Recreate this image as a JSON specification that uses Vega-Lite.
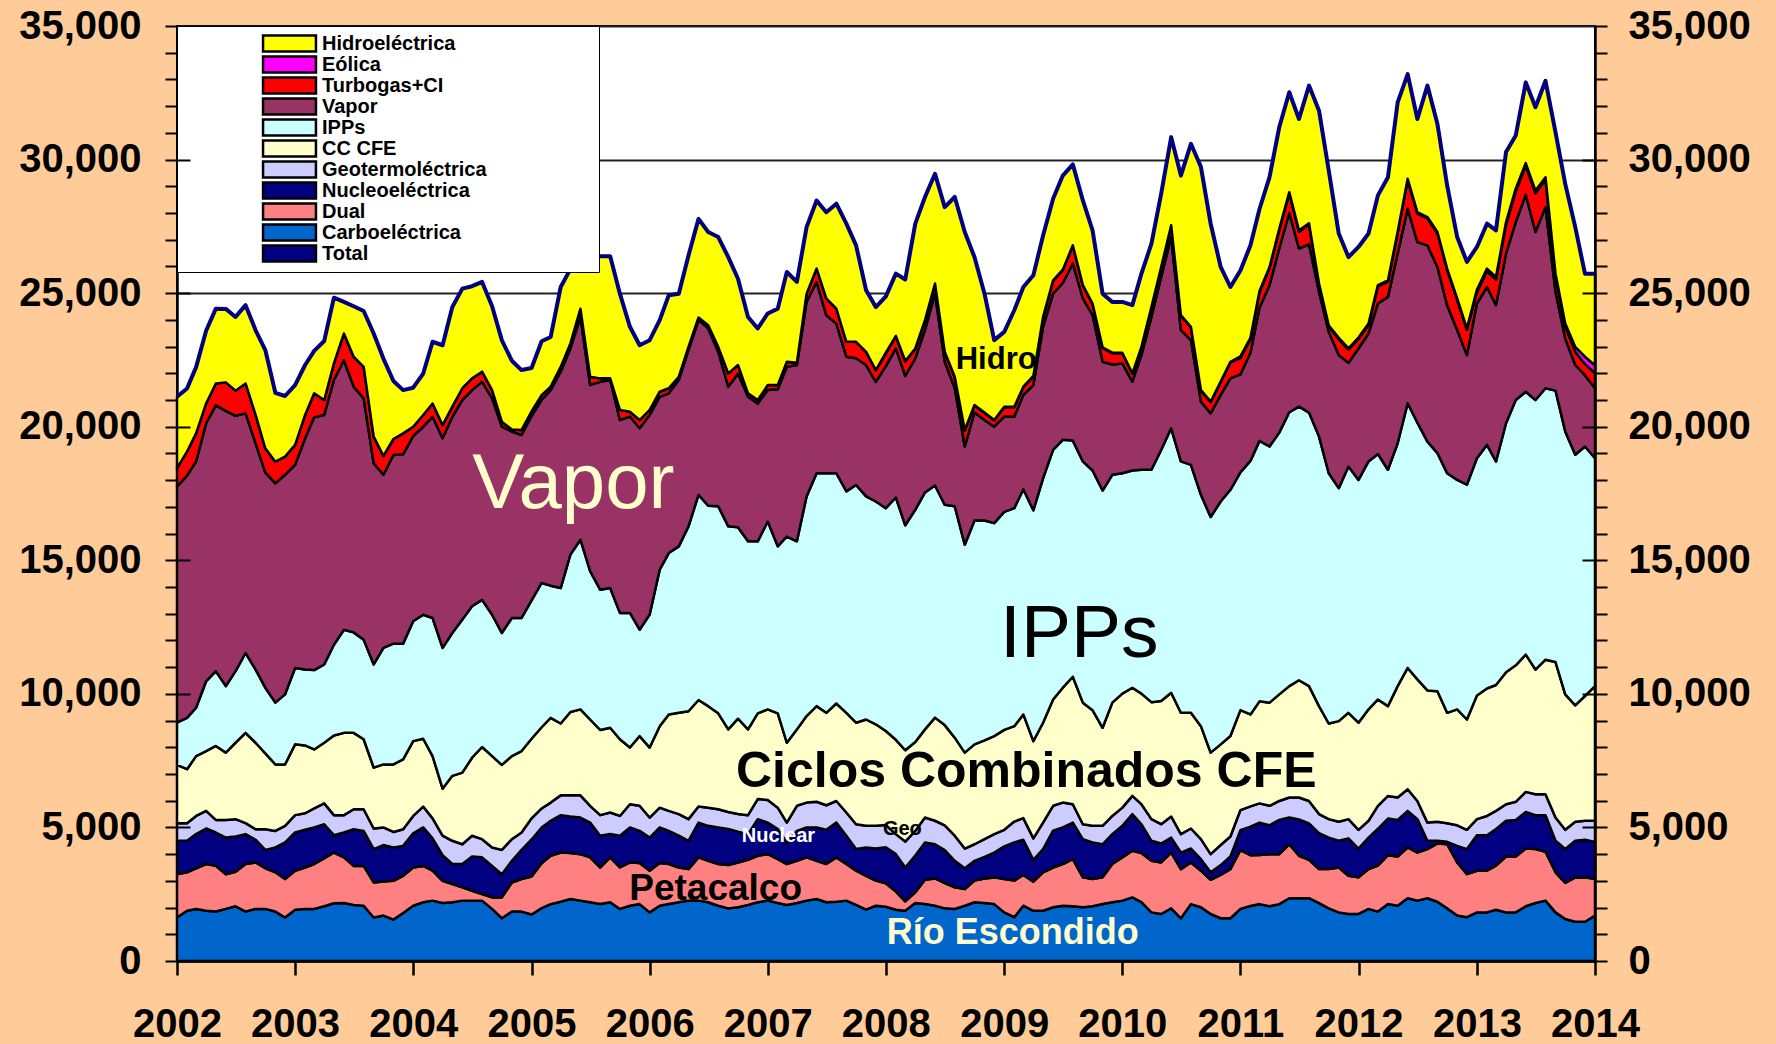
{
"$schema": "https://vega.github.io/schema/vega-lite/v6.json",
"width": 1418, "height": 935,
"autosize": {"type": "none"},
"padding": {"left": 177, "top": 26, "right": 181, "bottom": 83},
"background": "#FFCC99",
"config": {"view": {"fill": "white", "stroke": "black", "strokeWidth": 2}, "font": "Liberation Sans"},
"datasets": {
"ser": [
{"k":"c","name":"Carboeléctrica","o":1},{"k":"du","name":"Dual","o":2},{"k":"n","name":"Nucleoeléctrica","o":3},{"k":"g","name":"Geotermoléctrica","o":4},{"k":"cc","name":"CC CFE","o":5},{"k":"ipp","name":"IPPs","o":6},{"k":"v","name":"Vapor","o":7},{"k":"tg","name":"Turbogas+CI","o":8},{"k":"e","name":"Eólica","o":9},{"k":"h","name":"Hidroeléctrica","o":10}],
"ann": [
{"d":"2005-05-10","v":17800,"label":"Vapor"},
{"d":"2009-08-21","v":12230,"label":"IPPs"},
{"d":"2009-03-10","v":7080,"label":"Ciclos Combinados CFE"},
{"d":"2008-12-07","v":22480,"label":"Hidro"},
{"d":"2008-02-21","v":4940,"label":"Geo"},
{"d":"2007-02-03","v":4680,"label":"Nuclear"},
{"d":"2006-07-24","v":2710,"label":"Petacalco"},
{"d":"2009-01-27","v":1040,"label":"Río Escondido"}],
"m": [
{"d":"2002-01","c":1630,"du":1620,"n":1250,"g":660,"cc":2180,"ipp":1580,"v":8840,"tg":690,"e":0,"h":2670,"t":21120},
{"d":"2002-02","c":1880,"du":1440,"n":1180,"g":660,"cc":2020,"ipp":1920,"v":9070,"tg":900,"e":0,"h":2360,"t":21430},
{"d":"2002-03","c":1950,"du":1520,"n":1280,"g":680,"cc":2240,"ipp":1810,"v":9220,"tg":1050,"e":0,"h":2480,"t":22230},
{"d":"2002-04","c":1880,"du":1750,"n":1330,"g":660,"cc":2240,"ipp":2610,"v":9660,"tg":740,"e":0,"h":2720,"t":23590},
{"d":"2002-05","c":1850,"du":1710,"n":1250,"g":470,"cc":2770,"ipp":2800,"v":9950,"tg":820,"e":0,"h":2800,"t":24420},
{"d":"2002-06","c":1950,"du":1300,"n":1370,"g":660,"cc":2520,"ipp":2490,"v":10300,"tg":1070,"e":0,"h":2750,"t":24410},
{"d":"2002-07","c":2050,"du":1290,"n":1320,"g":650,"cc":2860,"ipp":2680,"v":9560,"tg":940,"e":0,"h":2760,"t":24110},
{"d":"2002-08","c":1850,"du":1780,"n":1120,"g":410,"cc":3380,"ipp":2990,"v":8970,"tg":1120,"e":0,"h":2930,"t":24550},
{"d":"2002-09","c":1950,"du":1740,"n":850,"g":390,"cc":3240,"ipp":2740,"v":8470,"tg":1060,"e":0,"h":3170,"t":23610},
{"d":"2002-10","c":1950,"du":1520,"n":690,"g":770,"cc":2840,"ipp":2460,"v":8050,"tg":910,"e":0,"h":3680,"t":22870},
{"d":"2002-11","c":1850,"du":1470,"n":930,"g":620,"cc":2490,"ipp":2310,"v":8210,"tg":810,"e":0,"h":2580,"t":21270},
{"d":"2002-12","c":1630,"du":1440,"n":1370,"g":620,"cc":2300,"ipp":2620,"v":8220,"tg":680,"e":0,"h":2270,"t":21150},
{"d":"2003-01","c":1920,"du":1460,"n":1430,"g":650,"cc":2650,"ipp":2860,"v":7600,"tg":750,"e":0,"h":2240,"t":21560},
{"d":"2003-02","c":1950,"du":1550,"n":1410,"g":620,"cc":2540,"ipp":2840,"v":8660,"tg":870,"e":0,"h":1870,"t":22310},
{"d":"2003-03","c":1950,"du":1680,"n":1370,"g":710,"cc":2210,"ipp":2970,"v":9460,"tg":900,"e":0,"h":1590,"t":22840},
{"d":"2003-04","c":2050,"du":1790,"n":1280,"g":780,"cc":2270,"ipp":2930,"v":9340,"tg":560,"e":0,"h":2210,"t":23210},
{"d":"2003-05","c":2160,"du":1900,"n":650,"g":750,"cc":2980,"ipp":3400,"v":9910,"tg":620,"e":0,"h":2460,"t":24830},
{"d":"2003-06","c":2170,"du":1710,"n":930,"g":650,"cc":3080,"ipp":3860,"v":10090,"tg":1000,"e":0,"h":1180,"t":24670},
{"d":"2003-07","c":2100,"du":1460,"n":1370,"g":750,"cc":2860,"ipp":3760,"v":9200,"tg":1120,"e":0,"h":1890,"t":24510},
{"d":"2003-08","c":2070,"du":1490,"n":1310,"g":810,"cc":2620,"ipp":3730,"v":9030,"tg":1180,"e":0,"h":2090,"t":24330},
{"d":"2003-09","c":1630,"du":1310,"n":1250,"g":770,"cc":2280,"ipp":3860,"v":7530,"tg":1000,"e":0,"h":3860,"t":23490},
{"d":"2003-10","c":1700,"du":1280,"n":1360,"g":660,"cc":2360,"ipp":4360,"v":6480,"tg":710,"e":0,"h":3640,"t":22550},
{"d":"2003-11","c":1550,"du":1450,"n":1250,"g":580,"cc":2530,"ipp":4520,"v":7060,"tg":600,"e":0,"h":2170,"t":21710},
{"d":"2003-12","c":1800,"du":1390,"n":1120,"g":620,"cc":2620,"ipp":4330,"v":7090,"tg":780,"e":0,"h":1620,"t":21370},
{"d":"2004-01","c":2070,"du":1430,"n":1280,"g":650,"cc":2800,"ipp":4490,"v":6930,"tg":350,"e":0,"h":1460,"t":21460},
{"d":"2004-02","c":2200,"du":1360,"n":1440,"g":780,"cc":2540,"ipp":4640,"v":7040,"tg":440,"e":0,"h":1550,"t":21990},
{"d":"2004-03","c":2260,"du":1120,"n":1210,"g":750,"cc":2330,"ipp":5170,"v":7530,"tg":500,"e":0,"h":2310,"t":23180},
{"d":"2004-04","c":2170,"du":830,"n":960,"g":730,"cc":1760,"ipp":5270,"v":7850,"tg":490,"e":0,"h":2990,"t":23050},
{"d":"2004-05","c":2200,"du":680,"n":750,"g":870,"cc":2430,"ipp":5350,"v":8090,"tg":380,"e":0,"h":3730,"t":24480},
{"d":"2004-06","c":2260,"du":500,"n":870,"g":740,"cc":2680,"ipp":5730,"v":8220,"tg":440,"e":0,"h":3730,"t":25170},
{"d":"2004-07","c":2260,"du":370,"n":1280,"g":780,"cc":2920,"ipp":5670,"v":8090,"tg":440,"e":0,"h":3450,"t":25260},
{"d":"2004-08","c":2260,"du":250,"n":1370,"g":680,"cc":3450,"ipp":5510,"v":8160,"tg":380,"e":0,"h":3360,"t":25420},
{"d":"2004-09","c":1950,"du":430,"n":1180,"g":690,"cc":3420,"ipp":5290,"v":8100,"tg":310,"e":0,"h":3140,"t":24510},
{"d":"2004-10","c":1600,"du":780,"n":870,"g":910,"cc":3180,"ipp":4940,"v":7720,"tg":190,"e":0,"h":3050,"t":23240},
{"d":"2004-11","c":1850,"du":1090,"n":810,"g":810,"cc":3110,"ipp":5170,"v":6980,"tg":80,"e":0,"h":2570,"t":22470},
{"d":"2004-12","c":1850,"du":1220,"n":1090,"g":650,"cc":3050,"ipp":4980,"v":6850,"tg":190,"e":0,"h":2240,"t":22120},
{"d":"2005-01","c":1740,"du":1420,"n":1390,"g":790,"cc":2980,"ipp":5180,"v":6900,"tg":180,"e":0,"h":1620,"t":22200},
{"d":"2005-02","c":1980,"du":1680,"n":1340,"g":710,"cc":3040,"ipp":5400,"v":6850,"tg":180,"e":0,"h":2020,"t":23200},
{"d":"2005-03","c":2130,"du":1810,"n":1310,"g":680,"cc":3170,"ipp":4950,"v":7320,"tg":130,"e":0,"h":1860,"t":23360},
{"d":"2005-04","c":2220,"du":1840,"n":1400,"g":740,"cc":2690,"ipp":5070,"v":8100,"tg":180,"e":0,"h":2990,"t":25230},
{"d":"2005-05","c":2320,"du":1720,"n":1370,"g":790,"cc":3120,"ipp":5890,"v":7720,"tg":190,"e":0,"h":2780,"t":25900},
{"d":"2005-06","c":2260,"du":1740,"n":1370,"g":830,"cc":3220,"ipp":6350,"v":8340,"tg":310,"e":0,"h":1870,"t":26290},
{"d":"2005-07","c":2200,"du":1680,"n":1300,"g":630,"cc":3230,"ipp":5550,"v":6970,"tg":310,"e":0,"h":4510,"t":26380},
{"d":"2005-08","c":2130,"du":1370,"n":1190,"g":770,"cc":3190,"ipp":5250,"v":7780,"tg":130,"e":0,"h":4570,"t":26380},
{"d":"2005-09","c":2200,"du":1680,"n":870,"g":810,"cc":3170,"ipp":5230,"v":7790,"tg":60,"e":0,"h":4570,"t":26380},
{"d":"2005-10","c":1950,"du":1550,"n":1190,"g":740,"cc":2870,"ipp":4730,"v":7220,"tg":380,"e":0,"h":4350,"t":24980},
{"d":"2005-11","c":2070,"du":1620,"n":1310,"g":870,"cc":2120,"ipp":5040,"v":7350,"tg":180,"e":0,"h":3180,"t":23740},
{"d":"2005-12","c":2130,"du":1540,"n":1200,"g":940,"cc":2610,"ipp":3980,"v":7540,"tg":310,"e":0,"h":2800,"t":23050},
{"d":"2006-01","c":1820,"du":1560,"n":1240,"g":750,"cc":2620,"ipp":4980,"v":7470,"tg":190,"e":0,"h":2610,"t":23240},
{"d":"2006-02","c":2070,"du":1600,"n":1330,"g":740,"cc":3050,"ipp":5860,"v":6470,"tg":190,"e":0,"h":2680,"t":23990},
{"d":"2006-03","c":2130,"du":1500,"n":1240,"g":750,"cc":3610,"ipp":6040,"v":5980,"tg":190,"e":0,"h":3480,"t":24920},
{"d":"2006-04","c":2200,"du":1300,"n":1190,"g":810,"cc":3790,"ipp":6230,"v":6230,"tg":120,"e":0,"h":3110,"t":24980},
{"d":"2006-05","c":2260,"du":1180,"n":1060,"g":810,"cc":4040,"ipp":6920,"v":6600,"tg":120,"e":0,"h":3420,"t":26410},
{"d":"2006-06","c":2260,"du":1620,"n":1300,"g":600,"cc":3990,"ipp":7680,"v":6540,"tg":100,"e":0,"h":3690,"t":27780},
{"d":"2006-07","c":2200,"du":1550,"n":1310,"g":680,"cc":3800,"ipp":7500,"v":6640,"tg":120,"e":0,"h":3490,"t":27290},
{"d":"2006-08","c":2070,"du":1560,"n":1370,"g":680,"cc":3590,"ipp":7750,"v":5780,"tg":190,"e":0,"h":4110,"t":27100},
{"d":"2006-09","c":1970,"du":1620,"n":1350,"g":640,"cc":3090,"ipp":7600,"v":5230,"tg":490,"e":0,"h":4360,"t":26350},
{"d":"2006-10","c":2010,"du":1680,"n":1150,"g":660,"cc":3570,"ipp":7170,"v":5750,"tg":320,"e":0,"h":3230,"t":25540},
{"d":"2006-11","c":2100,"du":1690,"n":960,"g":710,"cc":3210,"ipp":7040,"v":5410,"tg":130,"e":0,"h":2860,"t":24110},
{"d":"2006-12","c":2200,"du":1740,"n":1370,"g":750,"cc":3210,"ipp":6440,"v":5160,"tg":130,"e":0,"h":2680,"t":23680},
{"d":"2007-01","c":2260,"du":1740,"n":1180,"g":850,"cc":3390,"ipp":7030,"v":4920,"tg":190,"e":0,"h":2680,"t":24240},
{"d":"2007-02","c":2170,"du":1640,"n":1130,"g":800,"cc":3530,"ipp":6250,"v":5880,"tg":160,"e":0,"h":2860,"t":24420},
{"d":"2007-03","c":2100,"du":1530,"n":810,"g":740,"cc":2990,"ipp":7720,"v":6350,"tg":190,"e":0,"h":3360,"t":25790},
{"d":"2007-04","c":2170,"du":1580,"n":1120,"g":940,"cc":2860,"ipp":7040,"v":6600,"tg":80,"e":0,"h":3030,"t":25420},
{"d":"2007-05","c":2260,"du":1620,"n":1120,"g":930,"cc":3240,"ipp":8220,"v":7280,"tg":310,"e":0,"h":2490,"t":27470},
{"d":"2007-06","c":2320,"du":1430,"n":1250,"g":960,"cc":3580,"ipp":8720,"v":7160,"tg":500,"e":0,"h":2550,"t":28470},
{"d":"2007-07","c":2200,"du":1430,"n":1280,"g":920,"cc":3460,"ipp":8970,"v":5910,"tg":630,"e":0,"h":3230,"t":28030},
{"d":"2007-08","c":2220,"du":1660,"n":1300,"g":810,"cc":3650,"ipp":8620,"v":5600,"tg":560,"e":0,"h":3930,"t":28350},
{"d":"2007-09","c":2260,"du":1370,"n":1060,"g":870,"cc":3730,"ipp":8290,"v":5040,"tg":560,"e":0,"h":4420,"t":27600},
{"d":"2007-10","c":2100,"du":1280,"n":810,"g":930,"cc":3800,"ipp":8900,"v":4740,"tg":620,"e":0,"h":3610,"t":26790},
{"d":"2007-11","c":1920,"du":1270,"n":1060,"g":810,"cc":3980,"ipp":8350,"v":4920,"tg":490,"e":0,"h":2310,"t":25110},
{"d":"2007-12","c":2070,"du":940,"n":1200,"g":850,"cc":3800,"ipp":8340,"v":4480,"tg":440,"e":0,"h":2360,"t":24480},
{"d":"2008-01","c":2030,"du":880,"n":1350,"g":830,"cc":3520,"ipp":8340,"v":5320,"tg":480,"e":20,"h":2110,"t":24880},
{"d":"2008-02","c":1920,"du":680,"n":1400,"g":750,"cc":3530,"ipp":9070,"v":5580,"tg":450,"e":20,"h":2330,"t":25730},
{"d":"2008-03","c":1880,"du":350,"n":1270,"g":970,"cc":3420,"ipp":8420,"v":5590,"tg":540,"e":20,"h":3050,"t":25510},
{"d":"2008-04","c":2170,"du":400,"n":1380,"g":920,"cc":3330,"ipp":8690,"v":5670,"tg":350,"e":20,"h":4670,"t":27600},
{"d":"2008-05","c":2130,"du":910,"n":1400,"g":930,"cc":3300,"ipp":8870,"v":6080,"tg":350,"e":20,"h":4610,"t":28600},
{"d":"2008-06","c":2070,"du":1020,"n":1280,"g":880,"cc":3860,"ipp":8690,"v":7180,"tg":360,"e":20,"h":4110,"t":29470},
{"d":"2008-07","c":1970,"du":950,"n":1230,"g":930,"cc":3750,"ipp":8250,"v":5350,"tg":360,"e":20,"h":5410,"t":28220},
{"d":"2008-08","c":1950,"du":810,"n":990,"g":940,"cc":3670,"ipp":8660,"v":4420,"tg":410,"e":20,"h":6730,"t":28600},
{"d":"2008-09","c":2070,"du":620,"n":780,"g":740,"cc":3590,"ipp":7780,"v":3680,"tg":600,"e":20,"h":7410,"t":27290},
{"d":"2008-10","c":2200,"du":810,"n":740,"g":620,"cc":3740,"ipp":8380,"v":4040,"tg":260,"e":20,"h":5540,"t":26350},
{"d":"2008-11","c":2170,"du":920,"n":810,"g":660,"cc":3700,"ipp":8230,"v":3760,"tg":260,"e":20,"h":4450,"t":24980},
{"d":"2008-12","c":2130,"du":1000,"n":930,"g":690,"cc":3670,"ipp":7970,"v":3610,"tg":230,"e":20,"h":2990,"t":23240},
{"d":"2009-01","c":1820,"du":1250,"n":1220,"g":620,"cc":3740,"ipp":8160,"v":3570,"tg":350,"e":20,"h":2800,"t":23550},
{"d":"2009-02","c":1640,"du":1370,"n":1430,"g":780,"cc":3570,"ipp":8160,"v":3430,"tg":350,"e":20,"h":3610,"t":24360},
{"d":"2009-03","c":2070,"du":1150,"n":1320,"g":810,"cc":3880,"ipp":8430,"v":3530,"tg":290,"e":20,"h":3730,"t":25230},
{"d":"2009-04","c":1880,"du":1090,"n":820,"g":800,"cc":3640,"ipp":8640,"v":4690,"tg":320,"e":20,"h":3770,"t":25670},
{"d":"2009-05","c":1880,"du":1440,"n":870,"g":990,"cc":3740,"ipp":9150,"v":5670,"tg":350,"e":20,"h":3050,"t":27160},
{"d":"2009-06","c":2010,"du":1490,"n":1380,"g":930,"cc":3980,"ipp":9340,"v":5850,"tg":480,"e":20,"h":3050,"t":28530},
{"d":"2009-07","c":2070,"du":1560,"n":1370,"g":930,"cc":4300,"ipp":9280,"v":5870,"tg":480,"e":20,"h":3520,"t":29400},
{"d":"2009-08","c":2050,"du":1760,"n":1370,"g":690,"cc":4770,"ipp":8840,"v":6630,"tg":660,"e":20,"h":3030,"t":29820},
{"d":"2009-09","c":2010,"du":1120,"n":1430,"g":560,"cc":4550,"ipp":9030,"v":6100,"tg":480,"e":20,"h":3170,"t":28470},
{"d":"2009-10","c":2050,"du":1020,"n":1370,"g":620,"cc":4330,"ipp":8970,"v":5820,"tg":410,"e":20,"h":2740,"t":27350},
{"d":"2009-11","c":2130,"du":1000,"n":1240,"g":690,"cc":3670,"ipp":8880,"v":4820,"tg":520,"e":20,"h":2010,"t":24980},
{"d":"2009-12","c":2200,"du":1430,"n":1120,"g":680,"cc":4240,"ipp":8530,"v":4130,"tg":420,"e":20,"h":1900,"t":24670},
{"d":"2010-01","c":2260,"du":1620,"n":1180,"g":680,"cc":4270,"ipp":8250,"v":4110,"tg":380,"e":20,"h":1900,"t":24670},
{"d":"2010-02","c":2380,"du":1750,"n":1370,"g":680,"cc":4050,"ipp":8130,"v":3330,"tg":290,"e":20,"h":2550,"t":24550},
{"d":"2010-03","c":2200,"du":1840,"n":1080,"g":750,"cc":4140,"ipp":8380,"v":4290,"tg":290,"e":20,"h":2740,"t":25730},
{"d":"2010-04","c":1820,"du":1930,"n":750,"g":810,"cc":4380,"ipp":8700,"v":5720,"tg":360,"e":20,"h":2360,"t":26850},
{"d":"2010-05","c":1760,"du":1930,"n":710,"g":720,"cc":4610,"ipp":9400,"v":6480,"tg":350,"e":20,"h":2740,"t":28720},
{"d":"2010-06","c":1970,"du":2090,"n":560,"g":790,"cc":4630,"ipp":9900,"v":7160,"tg":420,"e":20,"h":3300,"t":30840},
{"d":"2010-07","c":1600,"du":1840,"n":620,"g":690,"cc":4540,"ipp":9410,"v":4920,"tg":540,"e":20,"h":5220,"t":29400},
{"d":"2010-08","c":2130,"du":1560,"n":520,"g":750,"cc":4330,"ipp":9280,"v":4670,"tg":480,"e":20,"h":6850,"t":30590},
{"d":"2010-09","c":2010,"du":1370,"n":430,"g":750,"cc":4230,"ipp":8660,"v":3490,"tg":410,"e":20,"h":8350,"t":29720},
{"d":"2010-10","c":1760,"du":1280,"n":280,"g":680,"cc":3800,"ipp":8820,"v":3880,"tg":420,"e":20,"h":6660,"t":27600},
{"d":"2010-11","c":1600,"du":1620,"n":370,"g":750,"cc":3770,"ipp":9090,"v":3990,"tg":480,"e":20,"h":4290,"t":25980},
{"d":"2010-12","c":1600,"du":1840,"n":470,"g":750,"cc":3760,"ipp":9220,"v":4170,"tg":600,"e":20,"h":2800,"t":25230},
{"d":"2011-01","c":1950,"du":2200,"n":750,"g":750,"cc":3740,"ipp":8900,"v":3670,"tg":620,"e":50,"h":3220,"t":25850},
{"d":"2011-02","c":2060,"du":1900,"n":1070,"g":760,"cc":3440,"ipp":9490,"v":4050,"tg":510,"e":50,"h":3460,"t":26790},
{"d":"2011-03","c":2130,"du":1840,"n":1210,"g":720,"cc":3820,"ipp":9750,"v":4980,"tg":580,"e":50,"h":3070,"t":28150},
{"d":"2011-04","c":2050,"du":1950,"n":1080,"g":730,"cc":3860,"ipp":9590,"v":6040,"tg":630,"e":50,"h":3360,"t":29340},
{"d":"2011-05","c":2130,"du":1870,"n":1280,"g":710,"cc":3990,"ipp":9800,"v":6890,"tg":690,"e":50,"h":3800,"t":31210},
{"d":"2011-06","c":2350,"du":2020,"n":1000,"g":750,"cc":4170,"ipp":10250,"v":7460,"tg":730,"e":50,"h":3740,"t":32520},
{"d":"2011-07","c":2350,"du":1590,"n":1360,"g":820,"cc":4390,"ipp":10240,"v":5920,"tg":630,"e":50,"h":4170,"t":31520},
{"d":"2011-08","c":2350,"du":1440,"n":1360,"g":840,"cc":4300,"ipp":10240,"v":6300,"tg":740,"e":50,"h":5150,"t":32770},
{"d":"2011-09","c":2170,"du":1270,"n":1350,"g":710,"cc":4040,"ipp":10090,"v":5420,"tg":260,"e":50,"h":6470,"t":31830},
{"d":"2011-10","c":1970,"du":1470,"n":1180,"g":690,"cc":3580,"ipp":9370,"v":5290,"tg":200,"e":50,"h":5790,"t":29590},
{"d":"2011-11","c":1820,"du":1680,"n":1000,"g":710,"cc":3770,"ipp":8720,"v":4980,"tg":600,"e":50,"h":3900,"t":27230},
{"d":"2011-12","c":1760,"du":1430,"n":1400,"g":720,"cc":3980,"ipp":9220,"v":3880,"tg":490,"e":50,"h":3420,"t":26350},
{"d":"2012-01","c":1760,"du":1370,"n":1080,"g":700,"cc":4010,"ipp":9090,"v":4920,"tg":360,"e":50,"h":3390,"t":26730},
{"d":"2012-02","c":1950,"du":1490,"n":1180,"g":630,"cc":4170,"ipp":9280,"v":4790,"tg":320,"e":50,"h":3370,"t":27230},
{"d":"2012-03","c":1850,"du":1720,"n":1380,"g":860,"cc":3980,"ipp":9190,"v":5630,"tg":640,"e":50,"h":3360,"t":28660},
{"d":"2012-04","c":2130,"du":1830,"n":1370,"g":850,"cc":3360,"ipp":8850,"v":6470,"tg":570,"e":50,"h":3860,"t":29340},
{"d":"2012-05","c":2070,"du":1840,"n":1370,"g":840,"cc":4170,"ipp":9090,"v":7100,"tg":770,"e":50,"h":4840,"t":32140},
{"d":"2012-06","c":2350,"du":1900,"n":1370,"g":810,"cc":4540,"ipp":9910,"v":7280,"tg":1070,"e":50,"h":3920,"t":33200},
{"d":"2012-07","c":2260,"du":1800,"n":1250,"g":680,"cc":4550,"ipp":9610,"v":6760,"tg":1070,"e":50,"h":3490,"t":31520},
{"d":"2012-08","c":2350,"du":1840,"n":310,"g":680,"cc":4950,"ipp":9310,"v":7350,"tg":1010,"e":50,"h":4920,"t":32770},
{"d":"2012-09","c":2220,"du":2180,"n":100,"g":710,"cc":4890,"ipp":8910,"v":6970,"tg":1260,"e":50,"h":4040,"t":31330},
{"d":"2012-10","c":1970,"du":2400,"n":90,"g":700,"cc":4130,"ipp":8970,"v":6290,"tg":1320,"e":50,"h":3110,"t":29030},
{"d":"2012-11","c":1700,"du":1990,"n":620,"g":770,"cc":4340,"ipp":8590,"v":5610,"tg":1130,"e":50,"h":2300,"t":27100},
{"d":"2012-12","c":1640,"du":1610,"n":940,"g":720,"cc":4130,"ipp":8790,"v":4850,"tg":950,"e":50,"h":2490,"t":26170},
{"d":"2013-01","c":1820,"du":1560,"n":1330,"g":600,"cc":4630,"ipp":8880,"v":5790,"tg":420,"e":100,"h":1600,"t":26730},
{"d":"2013-02","c":1820,"du":1560,"n":1330,"g":720,"cc":4770,"ipp":9120,"v":5910,"tg":590,"e":100,"h":1680,"t":27600},
{"d":"2013-03","c":1920,"du":1650,"n":1370,"g":680,"cc":4710,"ipp":8370,"v":5850,"tg":960,"e":100,"h":1740,"t":27350},
{"d":"2013-04","c":1820,"du":2090,"n":1340,"g":620,"cc":4940,"ipp":9320,"v":6350,"tg":1080,"e":100,"h":2620,"t":30280},
{"d":"2013-05","c":1820,"du":2090,"n":1370,"g":680,"cc":5110,"ipp":9930,"v":6660,"tg":1150,"e":100,"h":1990,"t":30900},
{"d":"2013-06","c":2050,"du":2160,"n":1370,"g":750,"cc":5140,"ipp":9840,"v":7380,"tg":1080,"e":100,"h":3020,"t":32890},
{"d":"2013-07","c":2170,"du":2020,"n":1270,"g":780,"cc":4670,"ipp":10090,"v":6290,"tg":1450,"e":100,"h":3120,"t":31960},
{"d":"2013-08","c":2260,"du":1830,"n":1370,"g":780,"cc":5040,"ipp":10160,"v":6780,"tg":1020,"e":100,"h":3610,"t":32950},
{"d":"2013-09","c":1820,"du":1500,"n":1180,"g":870,"cc":5820,"ipp":10160,"v":3700,"tg":580,"e":100,"h":5290,"t":31020},
{"d":"2013-10","c":1570,"du":1350,"n":1270,"g":720,"cc":5070,"ipp":9840,"v":3480,"tg":460,"e":100,"h":5230,"t":29090},
{"d":"2013-11","c":1470,"du":1660,"n":1370,"g":710,"cc":4360,"ipp":9380,"v":3360,"tg":490,"e":190,"h":4480,"t":27470},
{"d":"2013-12","c":1470,"du":1660,"n":1410,"g":710,"cc":4670,"ipp":9340,"v":2670,"tg":420,"e":270,"h":3110,"t":25730},
{"d":"2014-01","c":1700,"du":1370,"n":1390,"g":790,"cc":5040,"ipp":8530,"v":2620,"tg":560,"e":300,"h":3430,"t":25730}
]
},
"resolve": {"axis": {"y": "independent"}, "scale": {"y": "shared"}},
"layer": [
{
"data": {"name": "m"},
"transform": [
{"fold": ["c","du","n","g","cc","ipp","v","tg","e","h"], "as": ["k","value"]},
{"lookup": "k", "from": {"data": {"name": "ser"}, "key": "k", "fields": ["name","o"]}}
],
"mark": {"type": "area", "stroke": "black", "strokeWidth": 2.5, "strokeJoin": "round", "opacity": 1},
"encoding": {
"x": {"field": "d", "type": "temporal",
 "scale": {"type": "utc", "domain": [{"year":2002,"month":1,"date":1,"utc":true},{"year":2014,"month":1,"date":1,"utc":true}]},
 "axis": {"values": [{"year":2002,"month":1,"date":1,"utc":true},{"year":2003,"month":1,"date":1,"utc":true},{"year":2004,"month":1,"date":1,"utc":true},{"year":2005,"month":1,"date":1,"utc":true},{"year":2006,"month":1,"date":1,"utc":true},{"year":2007,"month":1,"date":1,"utc":true},{"year":2008,"month":1,"date":1,"utc":true},{"year":2009,"month":1,"date":1,"utc":true},{"year":2010,"month":1,"date":1,"utc":true},{"year":2011,"month":1,"date":1,"utc":true},{"year":2012,"month":1,"date":1,"utc":true},{"year":2013,"month":1,"date":1,"utc":true},{"year":2014,"month":1,"date":1,"utc":true}],
  "format": "%Y", "title": null, "labelFont": "Liberation Sans", "labelFontSize": 40, "labelFontWeight": "bold", "labelColor": "black", "labelPadding": 29, "labelFlush": false, "labelOverlap": false,
  "tickSize": 14, "tickWidth": 2.5, "tickColor": "black", "domainColor": "black", "domainWidth": 2.5, "grid": false, "zindex": 1}},
"y": {"field": "value", "type": "quantitative", "stack": "zero",
 "scale": {"domain": [0, 35000], "nice": false, "zero": true},
 "axis": {"orient": "left", "values": [0,1000,2000,3000,4000,5000,6000,7000,8000,9000,10000,11000,12000,13000,14000,15000,16000,17000,18000,19000,20000,21000,22000,23000,24000,25000,26000,27000,28000,29000,30000,31000,32000,33000,34000,35000],
  "labelExpr": "datum.value % 5000 === 0 ? format(datum.value, ',') : ''",
  "title": null, "labelFont": "Liberation Sans", "labelFontSize": 40, "labelFontWeight": "bold", "labelColor": "black", "labelPadding": 24, "labelOverlap": false,
  "tickSize": 12, "tickWidth": 2, "tickColor": "black", "domainColor": "black", "domainWidth": 2.5,
  "grid": true, "gridColor": "#222222", "gridWidth": 2, "gridOpacity": {"condition": {"test": "datum.value % 5000 === 0", "value": 1}, "value": 0}, "zindex": 0}},
"color": {"field": "name", "type": "nominal",
 "scale": {"domain": ["Hidroeléctrica","Eólica","Turbogas+CI","Vapor","IPPs","CC CFE","Geotermoléctrica","Nucleoeléctrica","Dual","Carboeléctrica","Total"],
  "range": ["#FFFF00","#FF00FF","#FF0000","#993366","#CCFFFF","#FFFFCC","#CCCCFF","#000080","#FF8080","#0066CC","#000080"]},
 "legend": {"orient": "top-left", "offset": 0, "direction": "vertical",
  "title": "\u00a0", "titleOrient": "right", "titlePadding": 104, "titleFontSize": 8,
  "fillColor": "white", "strokeColor": "black", "padding": 8,
  "symbolType": "M-2.94,-0.9H2.94V0.9H-2.94Z", "symbolSize": 324, "symbolOffset": 94, "symbolStrokeColor": "black", "symbolStrokeWidth": 2.5,
  "labelFont": "Liberation Sans", "labelFontSize": 20, "labelFontWeight": "bold", "labelColor": "black", "labelOffset": 22, "labelLimit": 400, "rowPadding": 0, "clipHeight": 19,
  "encode": {
   "symbols": {"update": {
    "shape": {"signal": "datum.value === 'Total' ? 'M-2.94,0H2.94' : 'M-2.94,-0.9H2.94V0.9H-2.94Z'"},
    "fill": {"signal": "datum.value === 'Total' ? 'transparent' : scale('color', datum.value)"},
    "stroke": {"signal": "datum.value === 'Total' ? '#000080' : 'black'"},
    "opacity": {"value": 1}}},
   "legend": {"update": {"strokeWidth": {"value": 2}}}}}},
"order": {"field": "o", "type": "quantitative", "sort": "ascending"}
}
},
{
"data": {"name": "m"},
"mark": {"type": "line", "color": "#000080", "strokeWidth": 4, "strokeJoin": "round"},
"encoding": {
"x": {"field": "d", "type": "temporal", "scale": {"type": "utc", "domain": [{"year":2002,"month":1,"date":1,"utc":true},{"year":2014,"month":1,"date":1,"utc":true}]}},
"y": {"field": "t", "type": "quantitative", "scale": {"domain": [0, 35000], "nice": false, "zero": true},
 "axis": {"orient": "right", "values": [0,1000,2000,3000,4000,5000,6000,7000,8000,9000,10000,11000,12000,13000,14000,15000,16000,17000,18000,19000,20000,21000,22000,23000,24000,25000,26000,27000,28000,29000,30000,31000,32000,33000,34000,35000],
  "labelExpr": "datum.value % 5000 === 0 ? format(datum.value, ',') : ''",
  "title": null, "labelFont": "Liberation Sans", "labelFontSize": 40, "labelFontWeight": "bold", "labelColor": "black", "labelPadding": 21, "labelOverlap": false,
  "tickSize": 12, "tickWidth": 2, "tickColor": "black", "domainColor": "black", "domainWidth": 2.5, "grid": false, "zindex": 1}}
}
},
{
"data": {"name": "ann"},
"transform": [{"filter": "datum.label === 'Vapor'"}],
"mark": {"type": "text", "font": "Liberation Sans", "fontSize": 78, "fontWeight": "normal", "color": "#FFFFCC"},
"encoding": {
"x": {"field": "d", "type": "temporal", "scale": {"type": "utc", "domain": [{"year":2002,"month":1,"date":1,"utc":true},{"year":2014,"month":1,"date":1,"utc":true}]}},
"y": {"field": "v", "type": "quantitative", "scale": {"domain": [0, 35000], "nice": false, "zero": true},
 "axis": {"orient": "left", "values": [5000,10000,15000,20000,25000,30000], "tickSize": -13, "tickWidth": 2, "tickColor": "black", "labels": false, "domain": false, "grid": false, "title": null, "zindex": 1}},
"text": {"field": "label"}
}
},
{
"data": {"name": "ann"},
"transform": [{"filter": "datum.label === 'IPPs'"}],
"mark": {"type": "text", "font": "Liberation Sans", "fontSize": 75, "fontWeight": "normal", "color": "black"},
"encoding": {
"x": {"field": "d", "type": "temporal", "scale": {"type": "utc", "domain": [{"year":2002,"month":1,"date":1,"utc":true},{"year":2014,"month":1,"date":1,"utc":true}]}},
"y": {"field": "v", "type": "quantitative", "scale": {"domain": [0, 35000], "nice": false, "zero": true},
 "axis": {"orient": "right", "values": [5000,10000,15000,20000,25000,30000], "tickSize": -13, "tickWidth": 2, "tickColor": "black", "labels": false, "domain": false, "grid": false, "title": null, "zindex": 1}},
"text": {"field": "label"}
}
},
{
"data": {"name": "ann"},
"transform": [{"filter": "datum.label === 'Ciclos Combinados CFE'"}],
"mark": {"type": "text", "font": "Liberation Sans", "fontSize": 50, "fontWeight": "bold", "color": "black"},
"encoding": {
"x": {"field": "d", "type": "temporal", "scale": {"type": "utc", "domain": [{"year":2002,"month":1,"date":1,"utc":true},{"year":2014,"month":1,"date":1,"utc":true}]}},
"y": {"field": "v", "type": "quantitative", "scale": {"domain": [0, 35000], "nice": false, "zero": true}, "axis": null},
"text": {"field": "label"}
}
},
{
"data": {"name": "ann"},
"transform": [{"filter": "datum.label === 'Hidro'"}],
"mark": {"type": "text", "font": "Liberation Sans", "fontSize": 31, "fontWeight": "bold", "color": "black"},
"encoding": {
"x": {"field": "d", "type": "temporal", "scale": {"type": "utc", "domain": [{"year":2002,"month":1,"date":1,"utc":true},{"year":2014,"month":1,"date":1,"utc":true}]}},
"y": {"field": "v", "type": "quantitative", "scale": {"domain": [0, 35000], "nice": false, "zero": true}, "axis": null},
"text": {"field": "label"}
}
},
{
"data": {"name": "ann"},
"transform": [{"filter": "datum.label === 'Geo'"}],
"mark": {"type": "text", "font": "Liberation Sans", "fontSize": 20, "fontWeight": "bold", "color": "black"},
"encoding": {
"x": {"field": "d", "type": "temporal", "scale": {"type": "utc", "domain": [{"year":2002,"month":1,"date":1,"utc":true},{"year":2014,"month":1,"date":1,"utc":true}]}},
"y": {"field": "v", "type": "quantitative", "scale": {"domain": [0, 35000], "nice": false, "zero": true}, "axis": null},
"text": {"field": "label"}
}
},
{
"data": {"name": "ann"},
"transform": [{"filter": "datum.label === 'Nuclear'"}],
"mark": {"type": "text", "font": "Liberation Sans", "fontSize": 20, "fontWeight": "bold", "color": "white"},
"encoding": {
"x": {"field": "d", "type": "temporal", "scale": {"type": "utc", "domain": [{"year":2002,"month":1,"date":1,"utc":true},{"year":2014,"month":1,"date":1,"utc":true}]}},
"y": {"field": "v", "type": "quantitative", "scale": {"domain": [0, 35000], "nice": false, "zero": true}, "axis": null},
"text": {"field": "label"}
}
},
{
"data": {"name": "ann"},
"transform": [{"filter": "datum.label === 'Petacalco'"}],
"mark": {"type": "text", "font": "Liberation Sans", "fontSize": 37, "fontWeight": "bold", "color": "black"},
"encoding": {
"x": {"field": "d", "type": "temporal", "scale": {"type": "utc", "domain": [{"year":2002,"month":1,"date":1,"utc":true},{"year":2014,"month":1,"date":1,"utc":true}]}},
"y": {"field": "v", "type": "quantitative", "scale": {"domain": [0, 35000], "nice": false, "zero": true}, "axis": null},
"text": {"field": "label"}
}
},
{
"data": {"name": "ann"},
"transform": [{"filter": "datum.label === 'Río Escondido'"}],
"mark": {"type": "text", "font": "Liberation Sans", "fontSize": 36, "fontWeight": "bold", "color": "#FFFFCC"},
"encoding": {
"x": {"field": "d", "type": "temporal", "scale": {"type": "utc", "domain": [{"year":2002,"month":1,"date":1,"utc":true},{"year":2014,"month":1,"date":1,"utc":true}]}},
"y": {"field": "v", "type": "quantitative", "scale": {"domain": [0, 35000], "nice": false, "zero": true}, "axis": null},
"text": {"field": "label"}
}
}
]
}
